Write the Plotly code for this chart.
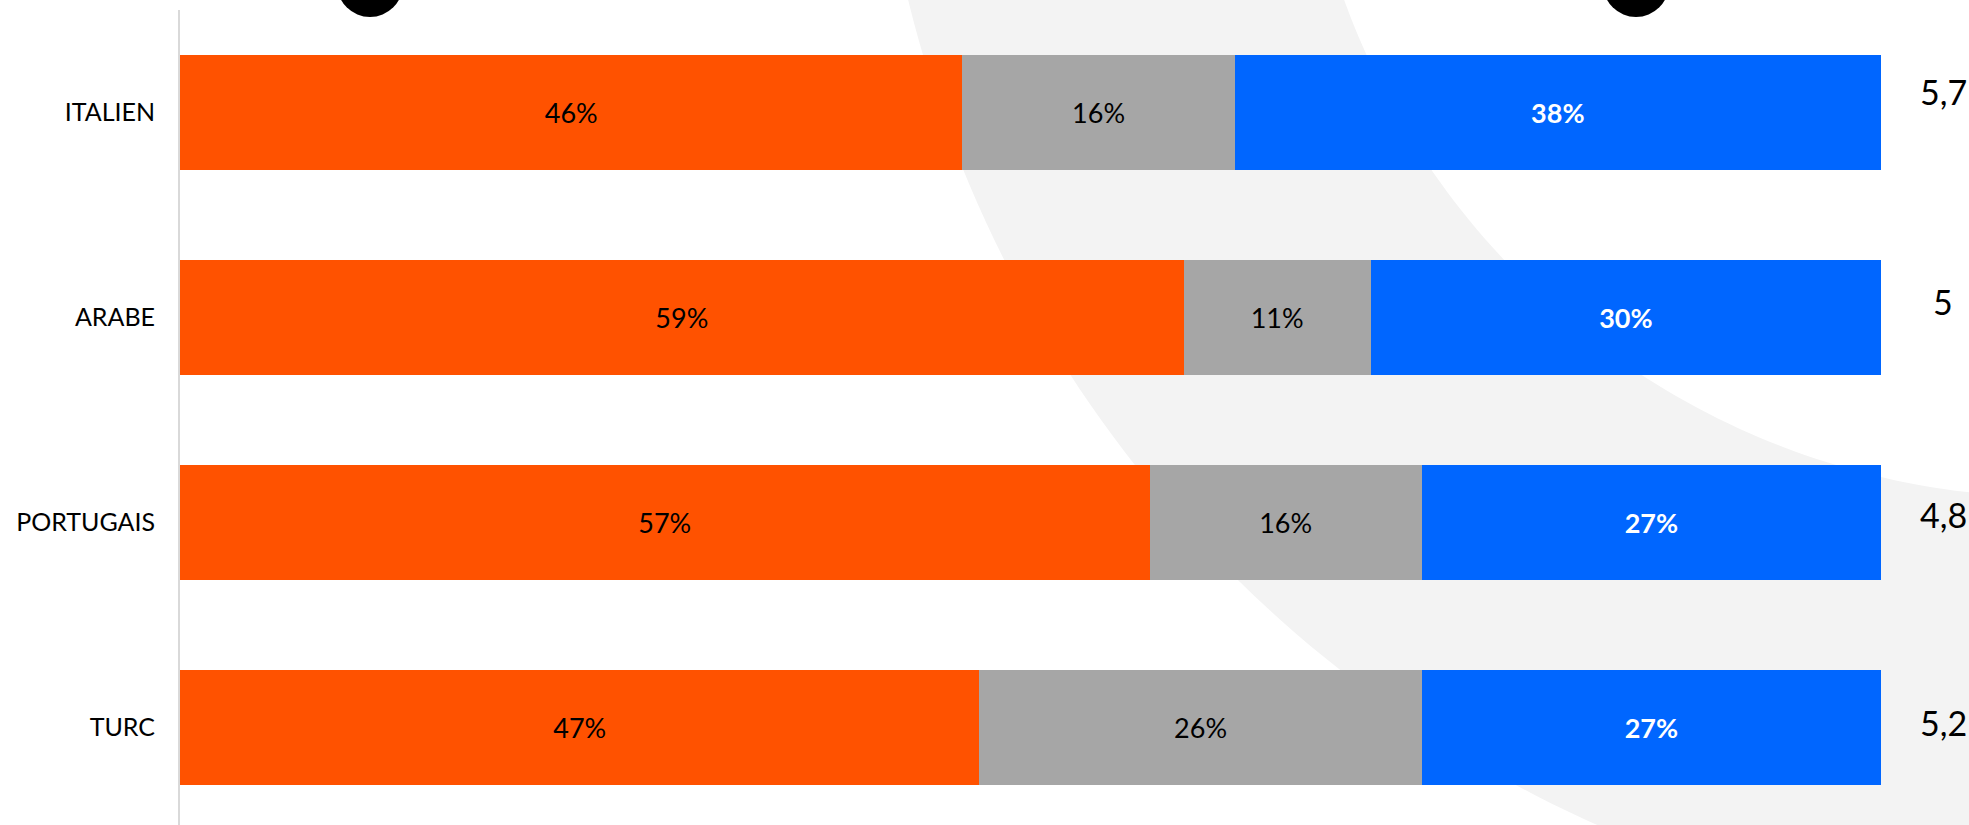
import numpy as np
import plotly.graph_objects as go

# ---- data ----
categories = ["ITALIEN", "ARABE", "PORTUGAIS", "TURC"]
negatif = [46, 59, 57, 47]
neutre = [16, 11, 16, 26]
positif = [38, 30, 27, 27]
scores = ["5,7", "5", "4,8", "5,2"]

# ---- layout geometry (pixels) ----
W, H = 1969, 825
ML, MR, MT, MB = 180, 88, 10, 0
PW, PH = W - ML - MR, H - MT - MB


def px(x):
    return (x - ML) / PW


def py(y):
    return (H - y) / PH


ORANGE = "#FF5200"
GREY = "#A6A6A6"
BLUE = "#0066FF"
FONT = "Lato"

fig = go.Figure()
fig.add_trace(go.Bar(y=categories, x=negatif, orientation="h", marker_color=ORANGE,
                     marker_line_width=0, texttemplate="%{x}%", textposition="inside",
                     insidetextanchor="middle",
                     textfont=dict(family=FONT, size=27, color="black"), hoverinfo="skip"))
fig.add_trace(go.Bar(y=categories, x=neutre, orientation="h", marker_color=GREY,
                     marker_line_width=0, texttemplate="%{x}%", textposition="inside",
                     insidetextanchor="middle",
                     textfont=dict(family=FONT, size=27, color="black"), hoverinfo="skip"))
fig.add_trace(go.Bar(y=categories, x=positif, orientation="h", marker_color=BLUE,
                     marker_line_width=0, texttemplate="<b>%{x}%</b>", textposition="inside",
                     insidetextanchor="middle",
                     textfont=dict(family=FONT, size=27, color="white"), hoverinfo="skip"))

# background ring decoration
t = np.linspace(0, 2 * np.pi, 400)
ocx, ocy, orad = 2095, -291, 1222
icx, icy, irad = 2053, -257, 754
outer = [(px(ocx + orad * np.cos(a)), py(ocy + orad * np.sin(a))) for a in t]
inner = [(px(icx + irad * np.cos(a)), py(icy + irad * np.sin(a))) for a in t[::-1]]


def to_path(pts):
    s = "M %.5f,%.5f " % pts[0]
    s += " ".join("L %.5f,%.5f" % p for p in pts[1:])
    return s + " Z"


shapes = [dict(type="path", xref="paper", yref="paper", layer="below",
               path=to_path(outer) + " " + to_path(inner),
               fillcolor="#F3F3F3", line=dict(width=0))]

# black circles at top
for cx in (370, 1636):
    r = 33
    cy = -16
    shapes.append(dict(type="circle", xref="paper", yref="paper",
                       x0=px(cx - r), x1=px(cx + r), y0=py(cy + r), y1=py(cy - r),
                       fillcolor="black", line=dict(width=0)))

# score annotations on the right
score_y = [92, 301, 514, 722]
annotations = []
for s, yy in zip(scores, score_y):
    annotations.append(dict(x=px(1943), y=py(yy), xref="paper", yref="paper",
                            text=s, showarrow=False, xanchor="center", yanchor="middle",
                            font=dict(family=FONT, size=34, color="black")))

fig.update_layout(
    width=W, height=H,
    barmode="stack",
    bargap=0.44,
    showlegend=False,
    margin=dict(l=ML, r=MR, t=MT, b=MB),
    paper_bgcolor="white",
    plot_bgcolor="rgba(0,0,0,0)",
    shapes=shapes,
    annotations=annotations,
    uniformtext=dict(minsize=10, mode="show"),
)
fig.update_xaxes(range=[0, 100], visible=False, fixedrange=True)
fig.update_yaxes(categoryorder="array", categoryarray=categories[::-1],
                 range=[-0.4756, 3.5], showline=True, linecolor="#D9D9D9", linewidth=2,
                 showgrid=False, zeroline=False, ticks="", ticklabelstandoff=18,
                 tickfont=dict(family=FONT, size=25, color="black"))

fig.write_html("out.html", config={"displayModeBar": False},
               post_script="document.body.style.margin='0';document.body.style.overflow='hidden';")
